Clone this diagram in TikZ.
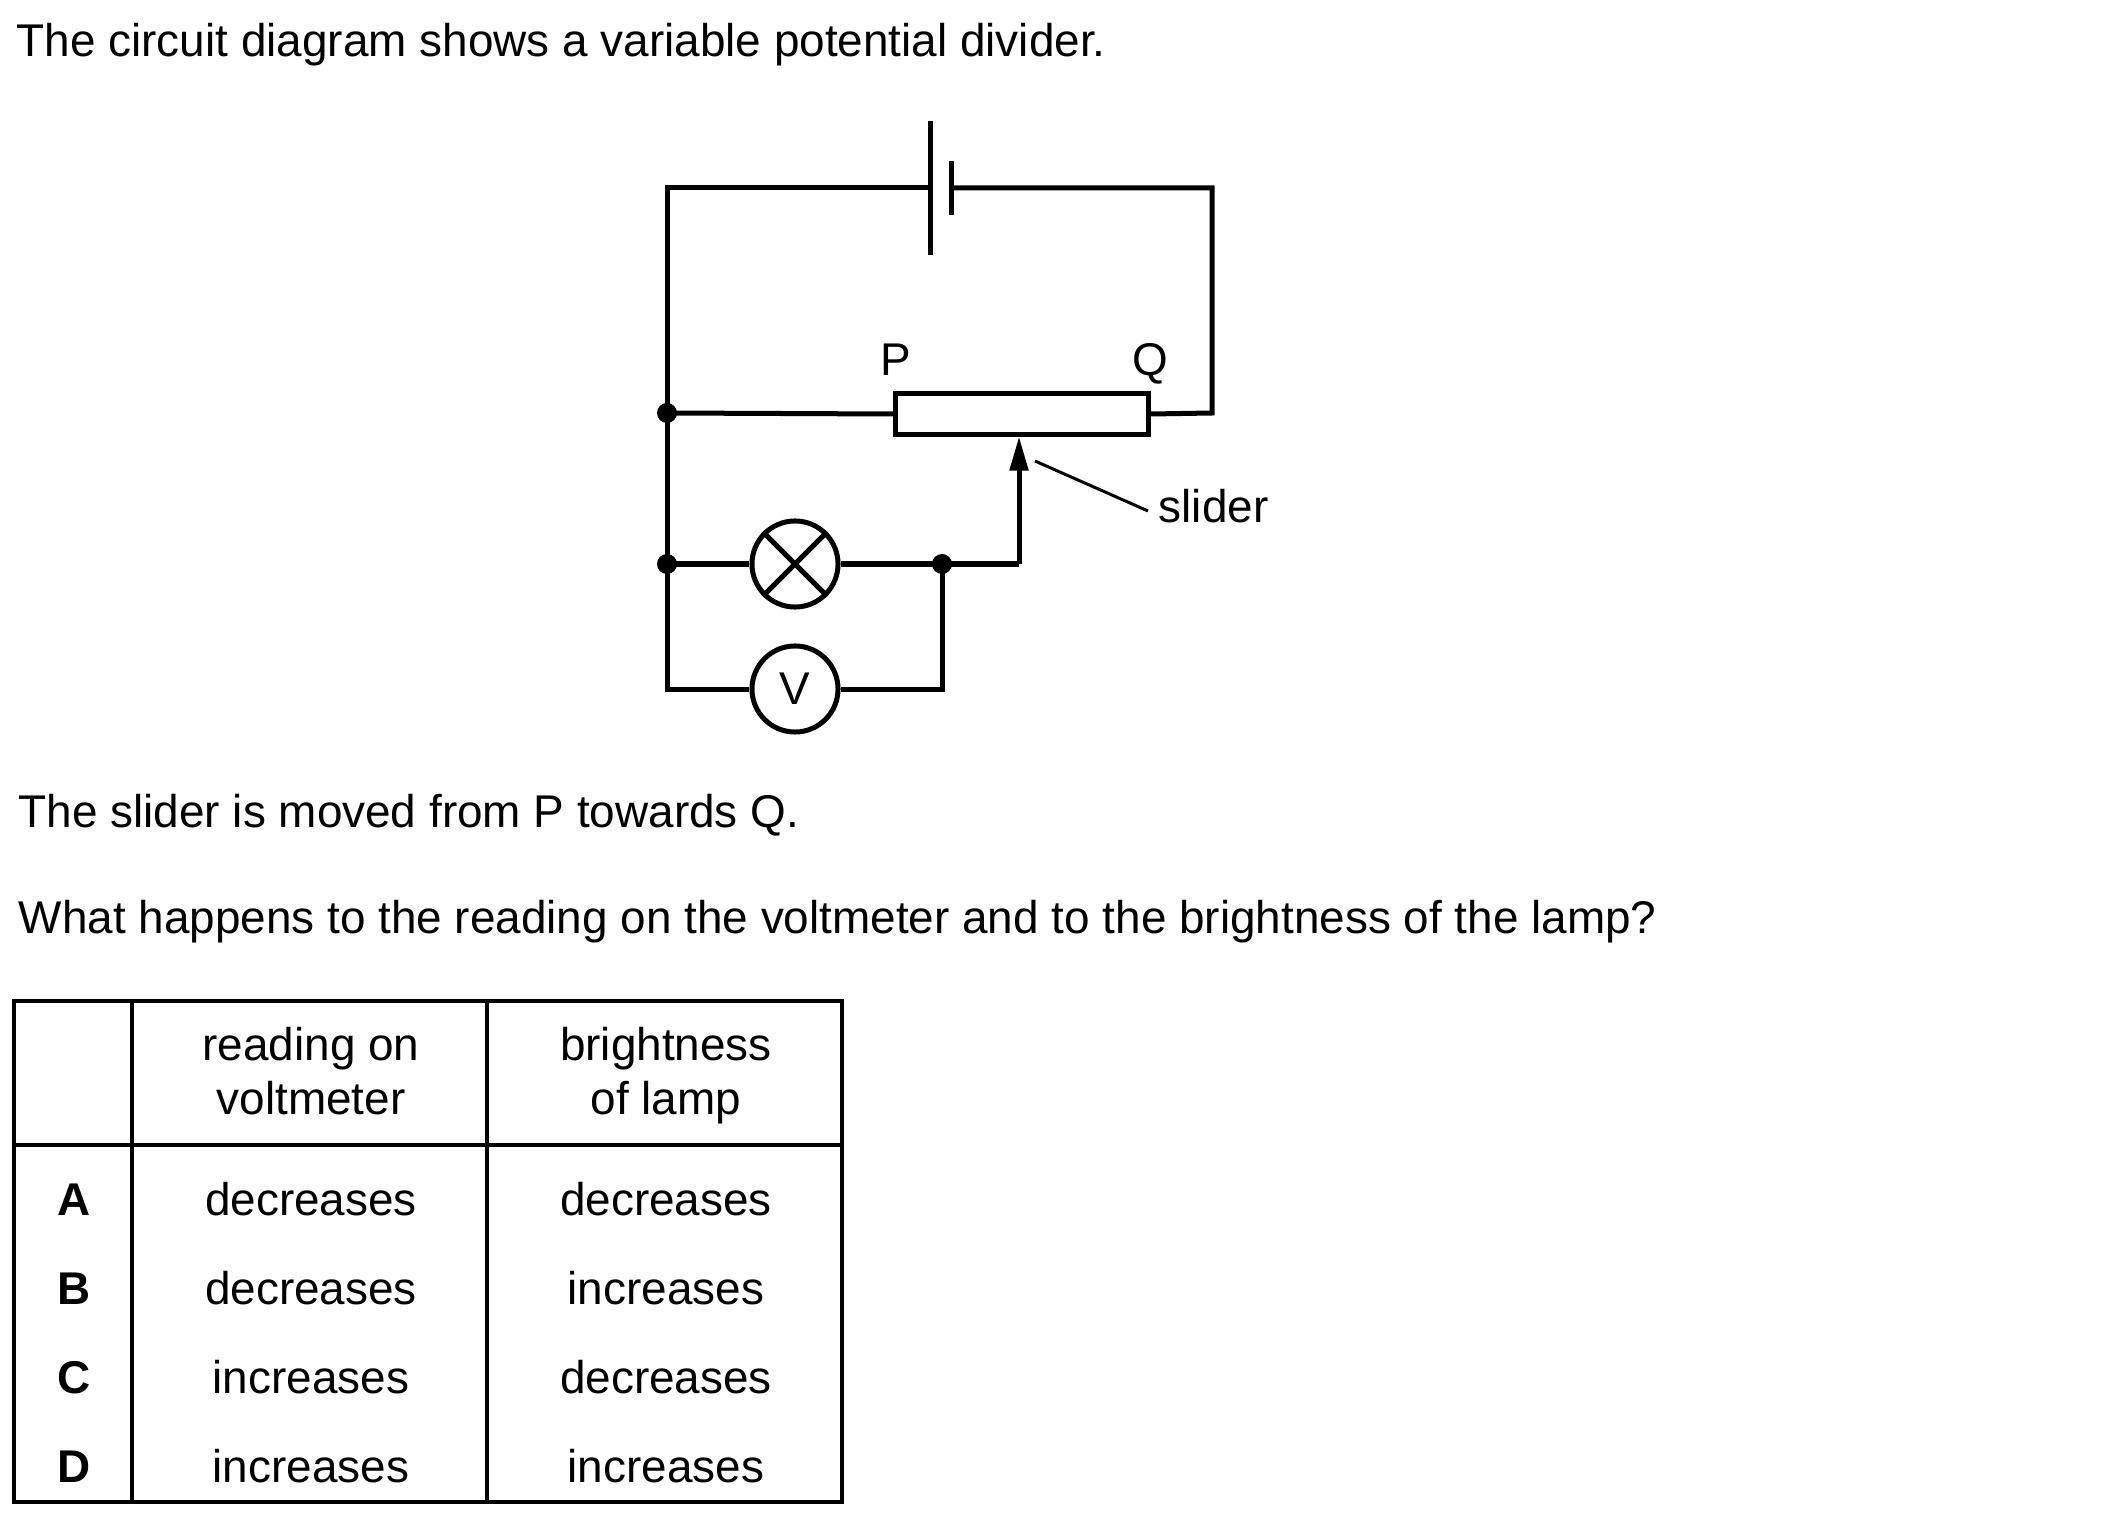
\documentclass[tikz,border=0pt]{standalone}
\usepackage{fontspec}
\setmainfont{Liberation Sans}
\usetikzlibrary{calc,positioning,arrows.meta,shapes}

\tikzset{
    wire/.style={line width=0.05cm},
    meter/.style={circle,draw,line width=0.05cm,inner sep=0pt,minimum size=0.86cm},
    txt/.style={inner sep=0pt,anchor=base west},
    cell/.style={inner sep=0pt,anchor=base},
}

\begin{document}
\begin{tikzpicture}[x=0.01cm,y=-0.01cm,font=\fontsize{13.05}{15.4}\selectfont]
        \useasboundingbox (0,0) rectangle (2101,1519);

        \node[txt] (title) at (16,57) {The circuit diagram shows a variable potential divider.};

        % circuit
        \coordinate (tl) at (667,188);
        \coordinate (bl) at (667,689);
        \coordinate (jA) at (667,413);
        \coordinate (jB) at (667,564);
        \coordinate (jC) at (942,564);
        \coordinate (br) at (942,689);
        \coordinate (tr) at (1212,188);
        \coordinate (rr) at (1212,413);
        \coordinate (sl) at (1019,564);
        \coordinate (cellL) at (930,188);
        \coordinate (cellS) at (951,188);

        \node[draw,wire,inner sep=0pt,minimum width=2.52cm,minimum height=0.40cm] (res) at (1022,414) {};
        \node[meter] (lamp) at (795,564) {};
        \node[meter] (volt) at (795,689) {V};

        \draw[wire] (cellL |- 0,121) -- (cellL |- 0,255);
        \draw[wire] (cellS |- 0,161) -- (cellS |- 0,215);

        \draw[wire] (volt.west) -- (bl) -- (tl) -- (cellL);
        \draw[wire] (cellS) -- (tr) -- (rr) -- (res.east);
        \draw[wire] (jA) -- (res.west);
        \draw[wire] (jB) -- (lamp.west);
        \draw[wire] (lamp.east) -- (jC) -- (sl);
        \draw[wire,-{Triangle[length=3.4mm,width=1.8mm]}] (sl) -- (res.south -| sl);
        \draw[wire] (volt.east) -- (br) -- (jC);
        \draw[wire] (lamp.north west) -- (lamp.south east);
        \draw[wire] (lamp.north east) -- (lamp.south west);

        \fill (jA) circle (0.1cm);
        \fill (jB) circle (0.1cm);
        \fill (jC) circle (0.1cm);

        \node[cell] (P) at (896,376) {P};
        \node[cell] (Q) at (1150,376) {Q};
        \node[txt] (slider) at (1158,523) {slider};
        \coordinate (tick) at (1148,511);
        \draw[line width=0.03cm] (1035,461) -- (tick);

        % question
        \node[txt] (move) at (18,827) {The slider is moved from P towards Q.};
        \node[txt] (ask) at (18,933) {What happens to the reading on the voltmeter and to the brightness of the lamp?};

        % table
        \draw[line width=0.04cm] (14,1001) rectangle (842,1502);
        \draw[line width=0.04cm] (132,1001) -- (132,1502);
        \draw[line width=0.04cm] (487,1001) -- (487,1502);
        \draw[line width=0.04cm] (14,1145) -- (842,1145);

        \node[cell] (hV1) at (311,1060) {reading on};
        \node[cell] (hV2) at (311,1114) {voltmeter};
        \node[cell] (hB1) at (666,1060) {brightness};
        \node[cell] (hB2) at (666,1114) {of lamp};

        \node[cell,font=\fontsize{13.05}{15.4}\selectfont\bfseries] (A) at (74,1215) {A};
        \node[cell] (A1) at (311,1215) {decreases};
        \node[cell] (A2) at (666,1215) {decreases};
        \node[cell,font=\fontsize{13.05}{15.4}\selectfont\bfseries] (B) at (74,1304) {B};
        \node[cell] (B1) at (311,1304) {decreases};
        \node[cell] (B2) at (666,1304) {increases};
        \node[cell,font=\fontsize{13.05}{15.4}\selectfont\bfseries] (C) at (74,1393) {C};
        \node[cell] (C1) at (311,1393) {increases};
        \node[cell] (C2) at (666,1393) {decreases};
        \node[cell,font=\fontsize{13.05}{15.4}\selectfont\bfseries] (D) at (74,1482) {D};
        \node[cell] (D1) at (311,1482) {increases};
        \node[cell] (D2) at (666,1482) {increases};
    \end{tikzpicture}
\end{document}
